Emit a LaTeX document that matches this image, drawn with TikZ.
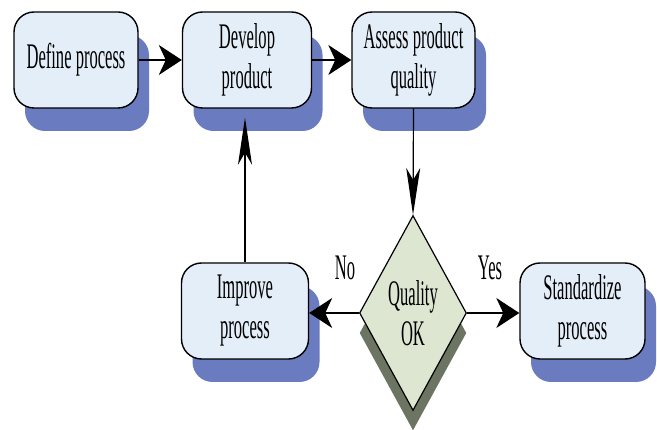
\documentclass[tikz,border=0pt]{standalone}
\usepackage{fontspec}
\setmainfont{Liberation Serif}
\newfontfamily\condfont[FakeStretch=0.46]{Liberation Serif}
\usetikzlibrary{shapes.geometric,arrows.meta,shadows}
\definecolor{boxfill}{HTML}{E4EEF8}
\definecolor{boxshadow}{HTML}{6A7BBF}
\definecolor{diafill}{HTML}{DCE6D0}
\definecolor{diashadow}{HTML}{6B7562}
\begin{document}
\begin{tikzpicture}[x=1pt,y=-1pt,
  txt/.style={font=\condfont\fontsize{36pt}{40pt}\selectfont},
  stepbox/.style={draw=black, line width=1.4pt, fill=boxfill, rounded corners=20pt,
    minimum width=#1, minimum height=96pt, inner sep=0pt, align=center, txt,
    drop shadow={shadow xshift=11pt, shadow yshift=-23pt, fill=boxshadow, opacity=1}},
  decision/.style={diamond, draw=black, line width=1.2pt, fill=diafill, shape aspect=0.55,
    minimum width=107pt, minimum height=195pt, inner sep=0pt, align=center, txt,
    drop shadow={shadow xshift=0pt, shadow yshift=-20pt, fill=diashadow, opacity=1}},
  harrow/.style={line width=1.2pt, -{Stealth[length=23pt,width=30pt,inset=7pt]}},
  varrow/.style={line width=1.2pt, -{Stealth[length=47pt,width=14pt,inset=12pt]}},
  lbl/.style={txt}
]
\useasboundingbox (0,0) rectangle (657,430);
\node[stepbox=124pt] (define) at (76,60) {Define process};
\node[stepbox=129pt] (develop) at (247,60) {Develop\\product};
\node[stepbox=123pt] (assess) at (413.5,60) {Assess product\\quality};
\node[stepbox=127pt] (improve) at (245,311) {Improve\\process};
\node[stepbox=125pt] (standard) at (582.5,311) {Standardize\\process};
\node[decision] (ok) at (413,313) {Quality\\OK};
\node[lbl] (no) at (345,268) {No};
\node[lbl] (yes) at (490,268) {Yes};
\draw[harrow] (define) -- (develop);
\draw[harrow] (develop) -- (assess);
\draw[varrow] (assess.south) -- (ok.north);
\draw[harrow] (ok.west) -- (ok.west -| improve.east);
\draw[harrow] (ok.east) -- (ok.east -| standard.west);
\draw[varrow, shorten >=9pt] (improve.north) -- (improve.north |- develop.south);
\end{tikzpicture}
\end{document}
